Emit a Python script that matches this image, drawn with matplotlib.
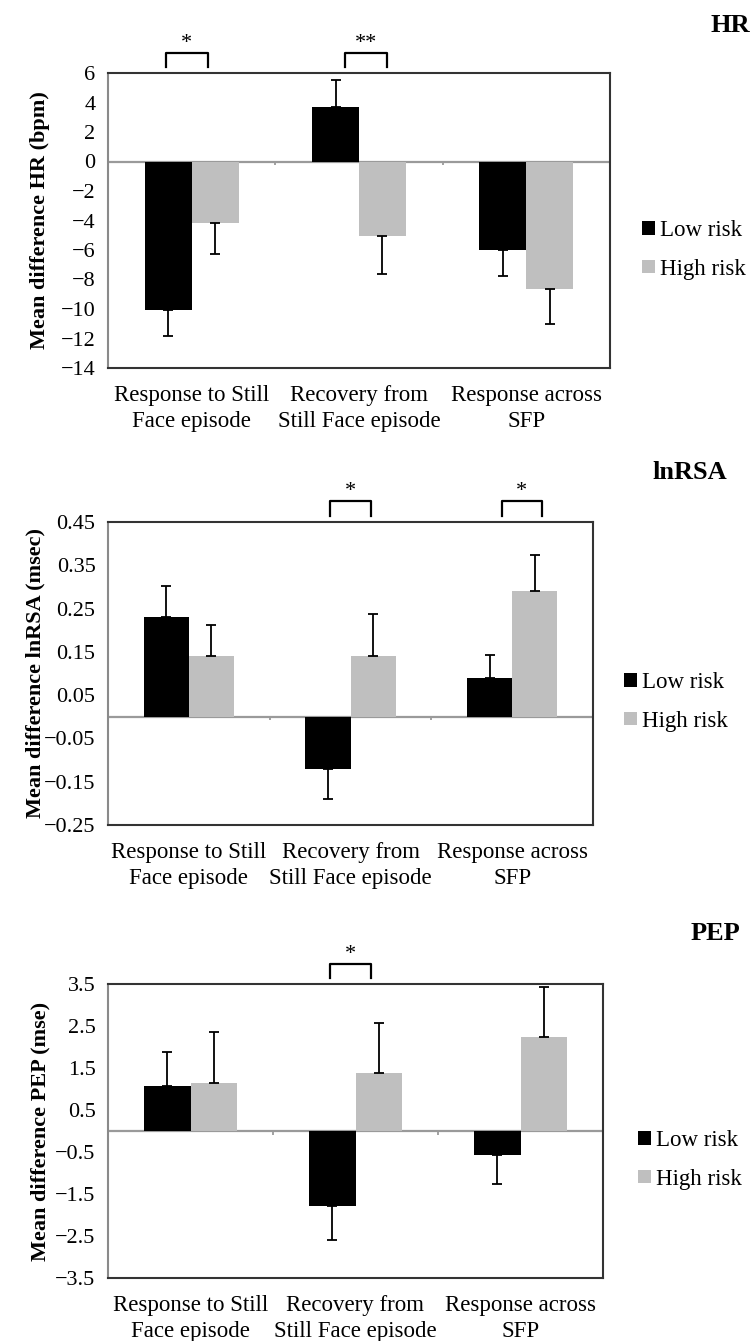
import numpy as np
import matplotlib
matplotlib.use("Agg")
import matplotlib.pyplot as plt

plt.rcParams['font.family'] = ['Liberation Serif', 'DejaVu Serif']

# categories shared by all three panels
categories = ["Response to Still\nFace episode",
              "Recovery from\nStill Face episode",
              "Response across\nSFP"]
groups = ["Low risk", "High risk"]

# HR (bpm)
hr_low = [-10.1, 3.7, -6.0]
hr_low_err = [1.75, 1.8, 1.75]
hr_high = [-4.2, -5.05, -8.65]
hr_high_err = [2.05, 2.6, 2.4]

# lnRSA (msec)
rsa_low = [0.23, -0.12, 0.09]
rsa_low_err = [0.071, 0.071, 0.053]
rsa_high = [0.14, 0.14, 0.29]
rsa_high_err = [0.073, 0.097, 0.084]

# PEP (mse)
pep_low = [1.07, -1.79, -0.58]
pep_low_err = [0.8, 0.8, 0.68]
pep_high = [1.15, 1.37, 2.25]
pep_high_err = [1.21, 1.19, 1.17]

# significance markers: (category index, label, shift)
hr_sig = [(0, "*", -0.03), (1, "**", 0.04)]
rsa_sig = [(1, "*", 0.0), (2, "*", 0.06)]
pep_sig = [(1, "*", -0.03)]

W, H = 752, 1341
fig = plt.figure(figsize=(W / 100, H / 100), dpi=100)

panels = [
    dict(title="HR", ylabel="Mean difference HR (bpm)", low=hr_low, low_err=hr_low_err,
         high=hr_high, high_err=hr_high_err, sig=hr_sig, ylim=(-14, 6),
         ticks=np.arange(-14, 7, 2), fmt="{:.0f}", lab_x=50,
         box=(108, 73, 610, 368), title_pos=(750, 25), leg=(642, 250)),
    dict(title="lnRSA", ylabel="Mean difference lnRSA (msec)", low=rsa_low, low_err=rsa_low_err,
         high=rsa_high, high_err=rsa_high_err, sig=rsa_sig, ylim=(-0.25, 0.45),
         ticks=np.arange(-0.25, 0.46, 0.1), fmt="{:.2f}", lab_x=45,
         box=(108, 522, 593, 825), title_pos=(727, 473), leg=(624, 702)),
    dict(title="PEP", ylabel="Mean difference PEP (mse)", low=pep_low, low_err=pep_low_err,
         high=pep_high, high_err=pep_high_err, sig=pep_sig, ylim=(-3.5, 3.5),
         ticks=np.arange(-3.5, 3.6, 1.0), fmt="{:.1f}", lab_x=50,
         box=(108, 984, 603, 1278), title_pos=(740, 933), leg=(638, 1160)),
]

x = np.arange(len(categories))
w = 0.28

for p in panels:
    l, t, r, b = p["box"]
    ax = fig.add_axes([l / W, 1 - b / H, (r - l) / W, (b - t) / H])

    low = np.array(p["low"])
    high = np.array(p["high"])
    low_err = np.array(p["low_err"])
    high_err = np.array(p["high_err"])

    # one-sided error bars, pointing away from zero
    low_yerr = [np.where(low < 0, low_err, 0), np.where(low > 0, low_err, 0)]
    high_yerr = [np.where(high < 0, high_err, 0), np.where(high > 0, high_err, 0)]

    ekw = dict(elinewidth=1.3, capthick=1.3, ecolor="black")
    h1 = ax.bar(x - w / 2, low, w, color="black", yerr=low_yerr, capsize=3.5,
                error_kw=ekw, label=groups[0], zorder=2)
    h2 = ax.bar(x + w / 2, high, w, color="#bfbfbf", yerr=high_yerr, capsize=3.5,
                error_kw=ekw, label=groups[1], zorder=2)

    ax.set_xlim(-0.5, len(categories) - 0.5)
    ax.set_ylim(*p["ylim"])
    ax.set_yticks(p["ticks"])
    ax.set_yticklabels([p["fmt"].format(v).replace("-", "\u2212") for v in p["ticks"]])
    ax.set_xticks(x)
    ax.set_xticklabels(categories, fontsize=16.5, linespacing=1.35)
    ax.tick_params(axis="y", length=0, pad=9, labelsize=16)
    ax.tick_params(axis="x", length=0, pad=12)

    # zero line with category-boundary ticks
    ax.axhline(0, color="#9a9a9a", lw=1.6, zorder=1)
    span = p["ylim"][1] - p["ylim"][0]
    ax.vlines(x[:-1] + 0.5, -span * 0.012, 0, color="#9a9a9a", lw=1.3, zorder=1)

    for side in ["top", "right", "bottom"]:
        ax.spines[side].set_color("#333333")
        ax.spines[side].set_linewidth(1.5)
    ax.spines["left"].set_color("#8a8a8a")
    ax.spines["left"].set_linewidth(1.5)

    ax.set_ylabel(p["ylabel"], fontsize=16, fontweight="bold")
    ax.yaxis.set_label_coords(-(l - p["lab_x"]) / (r - l), 0.5)

    # significance brackets above the plot area
    trans = ax.get_xaxis_transform()
    for ci, lab, shift in p["sig"]:
        x0 = ci - 0.125 + shift
        x1 = ci + 0.125 + shift
        ax.plot([x0, x0, x1, x1], [1.02, 1.068, 1.068, 1.02], transform=trans,
                color="black", lw=1.6, clip_on=False, solid_joinstyle="round")
        ax.text((x0 + x1) / 2, 1.100, lab, transform=trans, ha="center", va="center",
                fontsize=16)

    # panel title
    tx, ty = p["title_pos"]
    fig.text(tx / W, 1 - ty / H, p["title"], ha="right", va="center",
             fontsize=19, fontweight="bold")

    # legend to the right
    lx, ly = p["leg"]
    ax.legend(handles=[h1, h2], loc="center left", bbox_to_anchor=(lx / W, 1 - ly / H),
              bbox_transform=fig.transFigure, frameon=False, fontsize=16.5,
              handlelength=0.55, handleheight=0.55, handletextpad=0.25,
              labelspacing=0.75, borderpad=0, borderaxespad=0)

fig.savefig("out.png", dpi=100)
